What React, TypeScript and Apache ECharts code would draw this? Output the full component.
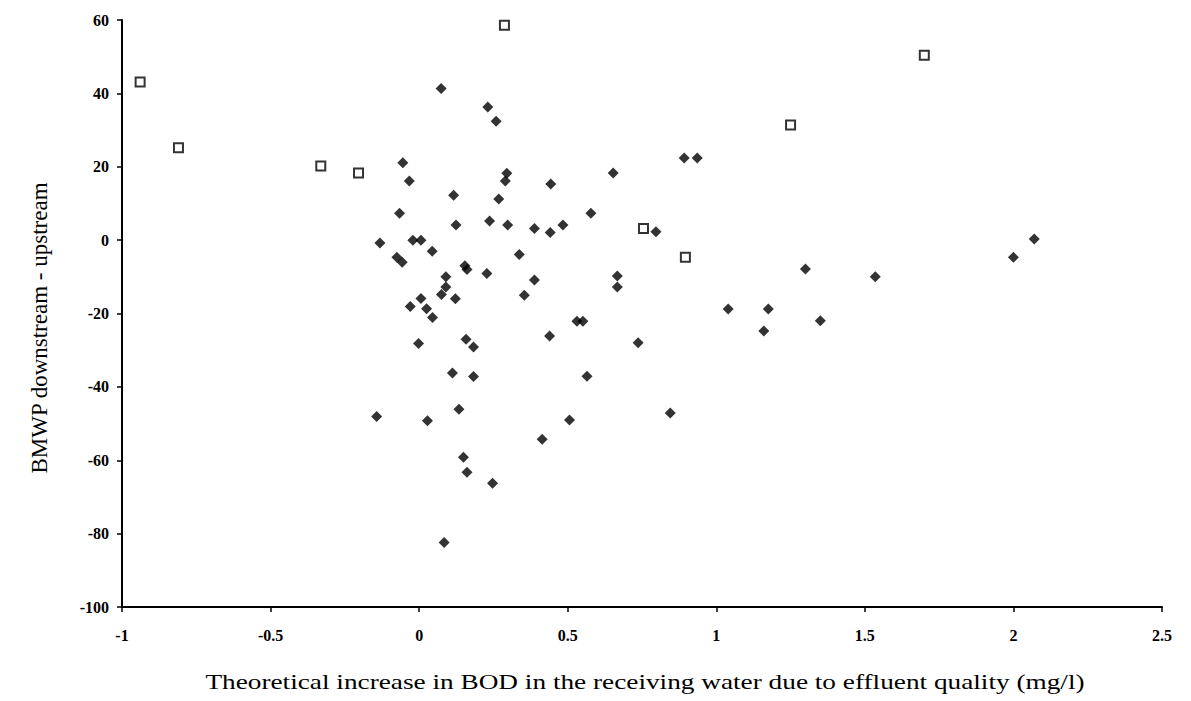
import React, { useEffect, useRef } from "react";
import * as echarts from "echarts";

// Filled diamonds: [theoretical BOD increase (mg/l), BMWP downstream - upstream]
const diamondX = [
  0.074, 0.231, 0.259, -0.055, -0.033, 0.116, -0.066, 0.124, 0.237, 0.295,
  0.29, 0.268, 0.298, -0.132, -0.021, 0.006, 0.044, -0.075, -0.057, 0.154,
  0.161, 0.228, 0.09, 0.09, 0.075, 0.122, 0.006, -0.03, 0.025, 0.045,
  0.443, 0.578, 0.388, 0.441, 0.484, 0.337, 0.388, 0.354, 0.531, 0.551,
  0.439, -0.002, 0.158, 0.183, 0.112, 0.183, 0.565, 0.134, -0.143, 0.028,
  0.506, 0.414, 0.149, 0.161, 0.247, 0.084, 0.653, 0.892, 0.936, 0.797,
  0.667, 0.667, 0.737, 0.845, 1.04, 1.175, 1.16, 1.35, 1.3, 1.535,
  2.0, 2.07,
];
const diamondY = [
  41.3, 36.3, 32.4, 21.1, 16.1, 12.2, 7.3, 4.1, 5.2, 18.2,
  16.1, 11.2, 4.1, -0.8, 0, 0, -3.0, -4.7, -6.0, -7.0,
  -8.0, -9.1, -10.0, -12.8, -14.8, -16.0, -15.9, -18.1, -18.7, -21.1,
  15.3, 7.3, 3.2, 2.1, 4.1, -3.9, -10.9, -15.0, -22.1, -22.1,
  -26.1, -28.2, -27.0, -29.1, -36.2, -37.2, -37.1, -46.1, -48.1, -49.2,
  -49.0, -54.3, -59.2, -63.3, -66.3, -82.4, 18.3, 22.4, 22.4, 2.3,
  -9.8, -12.8, -28.0, -47.1, -18.8, -18.8, -24.8, -22.0, -7.9, -10.0,
  -4.7, 0.3,
];

// Open squares
const squareX = [-0.939, -0.81, -0.331, -0.204, 0.287, 0.755, 0.896, 1.25, 1.7];
const squareY = [43.1, 25.2, 20.2, 18.3, 58.6, 3.2, -4.7, 31.4, 50.4];

const xTicks = [-1, -0.5, 0, 0.5, 1, 1.5, 2, 2.5];
const yTicks = [-100, -80, -60, -40, -20, 0, 20, 40, 60];

const xTitle = "Theoretical increase in BOD in the receiving water due to effluent quality (mg/l)";
const yTitle = "BMWP downstream - upstream";

export default function App() {
  const ref = useRef<HTMLDivElement>(null);
  useEffect(() => {
    if (!ref.current) return;
    const chart = echarts.init(ref.current, null, { renderer: "svg" });
    const serif = "'Liberation Serif', 'DejaVu Serif', serif";
    const diamonds = diamondX.map((x, i) => [x, diamondY[i]]);
    const squares = squareX.map((x, i) => [x, squareY[i]]);
    chart.setOption({
      animation: false,
      backgroundColor: "#ffffff",
      grid: { left: 122, right: 29, top: 20, bottom: 94, containLabel: false },
      graphic: [
        {
          type: "text",
          x: 645,
          y: 681,
          scaleX: 1.24,
          style: {
            text: xTitle,
            fontFamily: serif,
            fontSize: 22,
            fill: "#000",
            align: "center",
            verticalAlign: "middle",
          },
        },
        {
          type: "text",
          x: 39,
          y: 328,
          rotation: Math.PI / 2,
          style: {
            text: yTitle,
            fontFamily: serif,
            fontSize: 23,
            fill: "#000",
            align: "center",
            verticalAlign: "middle",
          },
        },
      ],
      xAxis: {
        type: "value",
        min: xTicks[0],
        max: xTicks[xTicks.length - 1],
        interval: 0.5,
        axisLine: { show: true, onZero: false, lineStyle: { color: "#000", width: 2 } },
        axisTick: { show: true, inside: false, length: 5, lineStyle: { color: "#000", width: 1.5 } },
        splitLine: { show: false },
        axisLabel: {
          margin: 20,
          fontFamily: serif,
          fontSize: 16,
          fontWeight: "bold",
          color: "#000",
          formatter: (v: number) => String(v),
        },
      },
      yAxis: {
        type: "value",
        min: yTicks[0],
        max: yTicks[yTicks.length - 1],
        interval: 20,
        axisLine: { show: true, onZero: false, lineStyle: { color: "#000", width: 2 } },
        axisTick: { show: true, inside: false, length: 5, lineStyle: { color: "#000", width: 1.5 } },
        splitLine: { show: false },
        axisLabel: {
          margin: 13,
          fontFamily: serif,
          fontSize: 16,
          fontWeight: "bold",
          color: "#000",
        },
      },
      series: [
        {
          type: "scatter",
          data: diamonds,
          symbol: "diamond",
          symbolSize: 11,
          itemStyle: { color: "#000" },
        },
        {
          type: "scatter",
          data: squares,
          symbol: "rect",
          symbolSize: 9,
          itemStyle: { color: "#fff", borderColor: "#000", borderWidth: 2 },
        },
      ],
    });
    return () => chart.dispose();
  }, []);
  return <div ref={ref} style={{ width: 1191, height: 701, position: "absolute", left: 0, top: 0 }} />;
}
